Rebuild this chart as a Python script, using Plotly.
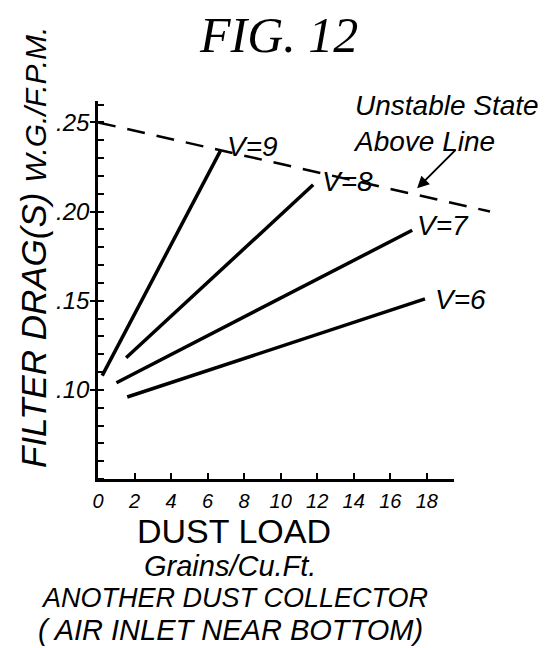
import plotly.graph_objects as go

# ---- data ----
dust_load_ticks = [0, 2, 4, 6, 8, 10, 12, 14, 16, 18]
drag_ticks = [0.10, 0.15, 0.20, 0.25]
drag_ticktext = [".10", ".15", ".20", ".25"]

v9_x = [0.23, 6.70]
v9_y = [0.108, 0.234]
v8_x = [1.54, 11.78]
v8_y = [0.118, 0.215]
v7_x = [1.01, 17.2]
v7_y = [0.104, 0.1895]
v6_x = [1.60, 17.9]
v6_y = [0.096, 0.151]
limit_x = [0.0, 21.46]
limit_y = [0.250, 0.200]

series_names = ["V=9", "V=8", "V=7", "V=6"]
series_x = [v9_x, v8_x, v7_x, v6_x]
series_y = [v9_y, v8_y, v7_y, v6_y]

# ---- layout constants ----
W, H = 555, 648
OFF = 8  # page body margin offset
L, R, T, B = 90, 54, 93, 177
PW, PH = W - L - R, H - T - B
X_AXIS_END = 19.5
X_WIDE_END = 22.5
YR = [0.05, 0.262]

SANS = "Liberation Sans"
SERIF = "Liberation Serif"
INK = "black"
CLEAR = "rgba(0,0,0,0)"


def pxx(x):
    return (x - OFF - L) / PW


def pxy(y):
    return (H - B - (y - OFF)) / PH


fig = go.Figure()

for name, xs, ys in zip(series_names, series_x, series_y):
    fig.add_trace(go.Scatter(x=xs, y=ys, mode="lines", name=name,
                             xaxis="x", yaxis="y",
                             line=dict(color=INK, width=3.5), showlegend=False))

# stability limit, drawn on a wider (hidden) x axis with the same scale
fig.add_trace(go.Scatter(x=limit_x, y=limit_y, mode="lines", showlegend=False,
                         xaxis="x2", yaxis="y",
                         line=dict(color=INK, width=2.5, dash="18px,12px")))

# invisible trace on the overlay y axis so its inner ticks are drawn
fig.add_trace(go.Scatter(x=[1], y=[0.1], xaxis="x", yaxis="y2", mode="markers",
                         marker=dict(opacity=0), showlegend=False, hoverinfo="skip"))

dom_end = X_AXIS_END / X_WIDE_END

fig.update_layout(
    width=W, height=H,
    margin=dict(l=L, r=R, t=T, b=B, autoexpand=False),
    paper_bgcolor="white", plot_bgcolor=CLEAR,
    xaxis=dict(domain=[0, dom_end], range=[0, X_AXIS_END], anchor="y",
               showline=True, linecolor=INK, linewidth=2.5,
               showgrid=False, zeroline=False,
               tickmode="array", tickvals=dust_load_ticks,
               ticktext=[str(v) for v in dust_load_ticks],
               ticks="inside", ticklen=6, tickwidth=2, tickcolor=INK,
               ticklabelstandoff=2,
               tickfont=dict(family=SANS, size=20, color=INK, style="italic")),
    xaxis2=dict(domain=[0, 1], range=[0, X_WIDE_END], anchor="y",
                visible=False, showgrid=False, zeroline=False),
    yaxis=dict(range=YR, anchor="x", showline=True, linecolor=INK, linewidth=2.5,
               showgrid=False, zeroline=False,
               tickmode="array", tickvals=drag_ticks, ticktext=drag_ticktext,
               ticks="outside", ticklen=5, tickwidth=2, tickcolor=INK,
               ticklabelstandoff=-4,
               tickfont=dict(family=SANS, size=24, color=INK, style="italic"),
               minor=dict(ticks="inside", dtick=0.01, tick0=0, ticklen=6,
                          tickwidth=1.5, tickcolor=INK)),
    yaxis2=dict(range=YR, overlaying="y", anchor="x", side="left",
                showline=False, showgrid=False, zeroline=False,
                tickmode="array", tickvals=drag_ticks, showticklabels=False,
                ticks="inside", ticklen=6, tickwidth=2, tickcolor=INK),
)

# series labels at line ends
label_shift = [(5, 4), (7, 3), (3, 5), (8, -1)]
for name, xs, ys, (dx, dy) in zip(series_names, series_x, series_y, label_shift):
    fig.add_annotation(x=xs[-1], y=ys[-1], xref="x", yref="y", text=name,
                       showarrow=False, xanchor="left", yanchor="middle",
                       xshift=dx, yshift=dy,
                       font=dict(family=SANS, size=28, color=INK, style="italic"))

# arrow to the limit line
fig.add_annotation(x=17.47, y=0.213, xref="x", yref="y", text="",
                   showarrow=True, ax=40, ay=-40, arrowhead=2, arrowsize=1.2,
                   arrowwidth=2, arrowcolor=INK)


def text(s, cx, cy, size, family=SANS, italic=True, angle=0, align="center"):
    fig.add_annotation(x=pxx(cx), y=pxy(cy), xref="paper", yref="paper",
                       text=s, showarrow=False, xanchor="center", yanchor="middle",
                       textangle=angle, align=align,
                       font=dict(family=family, size=size, color=INK,
                                 style="italic" if italic else "normal"))


text("FIG. 12", 278, 35, 50, family=SERIF)
text("Unstable State<br>Above Line", 446, 123, 28, align="left")
text("FILTER DRAG(S) <span style='font-size:30px'>W.G./F.P.M.</span>",
     34, 248, 35, angle=-90)
text("DUST LOAD", 234, 531, 34, italic=False)
text("Grains/Cu.Ft.", 230, 566, 29)
text("ANOTHER DUST COLLECTOR", 234, 598, 27)
text("( AIR INLET NEAR BOTTOM)", 230, 630, 29)

fig.write_html("out.html")
